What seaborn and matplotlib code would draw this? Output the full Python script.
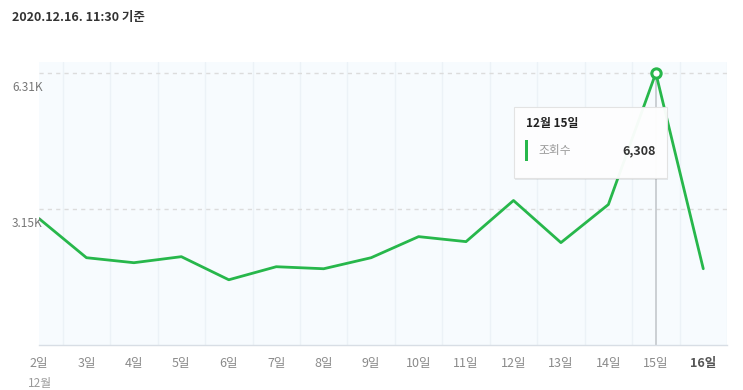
import numpy as np
import pandas as pd
import matplotlib
matplotlib.use('Agg')
import matplotlib.pyplot as plt
from matplotlib.patches import Rectangle
import seaborn as sns

DAYS = ['2일', '3일', '4일', '5일', '6일', '7일', '8일', '9일', '10일', '11일',
        '12일', '13일', '14일', '15일', '16일']
VIEWS = [2933, 2025, 1909, 2049, 1513, 1816, 1769, 2025, 2514, 2398,
         3352, 2375, 3259, 6308, 1769]
Y_TICKS = [3154, 6308]
Y_TICK_LABELS = ['3.15K', '6.31K']
MONTH_LABEL = '12월'
STAMP = '2020.12.16. 11:30 기준'
TIP_TITLE = '12월 15일'
TIP_NAME = '조회수'
TIP_VALUE = '6,308'

GREEN = '#27b74b'

sns.set_style('white')
plt.rcParams['font.family'] = ['Noto Sans CJK KR', 'DejaVu Sans']

df = pd.DataFrame({'idx': np.arange(len(DAYS)), 'day': DAYS, 'views': VIEWS})

fig = plt.figure(figsize=(7.43, 3.9), dpi=100)
W, H = 743, 390
ax = fig.add_axes([39 / W, (H - 345) / H, (727 - 39) / W, (345 - 62) / H])
ax.set_facecolor('#f7fbfe')

# column separators
for i in range(len(DAYS)):
    ax.axvline(i + 0.5, color='#ecf2f7', lw=1, zorder=0)

for v in Y_TICKS:
    ax.axhline(v, color='#dcdcdc', lw=1, ls=(0, (3, 3)), zorder=1)

peak = int(np.argmax(VIEWS))
ax.vlines(peak, 0, VIEWS[peak], color='#c4c8cc', lw=1.2, zorder=2)

sns.lineplot(data=df, x='idx', y='views', color=GREEN, lw=2, ax=ax, zorder=3)
ax.scatter([peak], [VIEWS[peak]], s=45, facecolor='white', edgecolor=GREEN,
           linewidth=2.2, zorder=5)

ax.set_xlim(0, 14.5)
ax.set_ylim(0, 6565)
ax.set_xlabel('')
ax.set_ylabel('')
ax.set_yticks([])
ax.set_xticks(df['idx'])
ax.set_xticklabels(DAYS, fontsize=9, color='#8a8a8a')
lbls = ax.get_xticklabels()
lbls[-1].set_fontweight('bold')
lbls[-1].set_color('#555555')
ax.tick_params(axis='x', length=0, pad=9)
for s in ['top', 'right', 'left']:
    ax.spines[s].set_visible(False)
ax.spines['bottom'].set_color('#d8dee5')
ax.spines['bottom'].set_linewidth(1)

for v, t in zip(Y_TICKS, Y_TICK_LABELS):
    ax.annotate(t, xy=(0, v), xycoords=('axes fraction', 'data'),
                xytext=(-27, -8), textcoords='offset pixels',
                ha='left', va='top', fontsize=8.5, color='#777777')

fig.text(28 / W, 1 - 383 / H, MONTH_LABEL, fontsize=8.5, color='#9a9a9a',
         va='center', ha='left')
fig.text(12 / W, 1 - 18 / H, STAMP, fontsize=9, color='#333333',
         fontweight='bold', va='center', ha='left')

# tooltip
bx0, bx1, by0, by1 = 514, 667, 107, 178
fig.patches.append(Rectangle((bx0 / W + 0.002, (H - by1) / H - 0.006),
                             (bx1 - bx0) / W, (by1 - by0) / H,
                             transform=fig.transFigure, facecolor='#000000',
                             alpha=0.08, edgecolor='none', zorder=6))
fig.patches.append(Rectangle((bx0 / W, (H - by1) / H),
                             (bx1 - bx0) / W, (by1 - by0) / H,
                             transform=fig.transFigure, facecolor='white',
                             alpha=0.96, edgecolor='#e2e2e2', lw=0.8, zorder=7))
fig.patches.append(Rectangle((525 / W, (H - 161) / H), 3 / W, 21 / H,
                             transform=fig.transFigure, facecolor=GREEN,
                             edgecolor='none', zorder=8))
fig.text(526 / W, 1 - 124 / H, TIP_TITLE, fontsize=8.5, fontweight='bold',
         color='#222222', va='center', ha='left', zorder=9)
fig.text(538 / W, 1 - 151 / H, TIP_NAME, fontsize=8.5, color='#999999',
         va='center', ha='left', zorder=9)
fig.text(656 / W, 1 - 151 / H, TIP_VALUE, fontsize=9, fontweight='bold',
         color='#333333', va='center', ha='right', zorder=9)

fig.savefig('out.png', dpi=100, facecolor='white')
